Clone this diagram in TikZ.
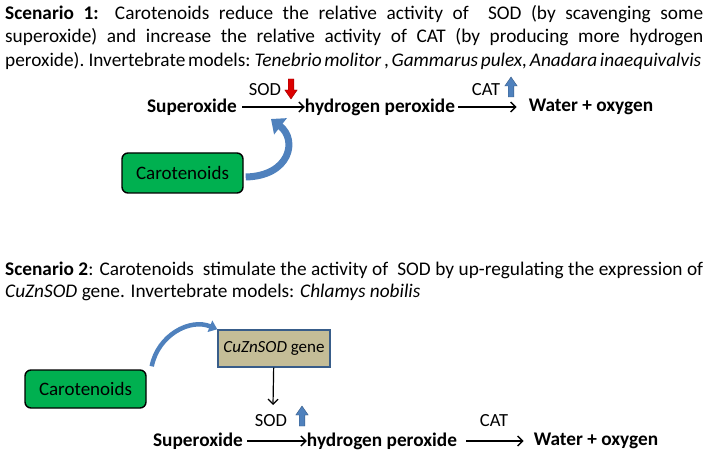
\documentclass[tikz,border=0pt]{standalone}
\usepackage{fontspec}
\setmainfont{Carlito}
\usetikzlibrary{arrows.meta}

\definecolor{carogreen}{RGB}{0,176,80}
\definecolor{genetan}{RGB}{196,189,151}
\definecolor{geneline}{RGB}{56,93,138}
\definecolor{bluearrow}{RGB}{79,129,189}
\definecolor{redarrow}{RGB}{220,0,0}

\tikzset{
  chem/.style={font=\bfseries\fontsize{19.3}{22}\selectfont, inner sep=0pt},
  enzyme/.style={font=\fontsize{18.5}{21}\selectfont, inner sep=0pt},
  react/.style={-{Straight Barb[length=5pt,width=10pt]}, line width=1.4pt},
  carobox/.style={draw, line width=1.4pt, rounded corners=6pt, fill=carogreen,
    minimum width=121pt, minimum height=40pt, font=\fontsize{19}{22}\selectfont},
  genebox/.style={draw=geneline, line width=1.4pt, fill=genetan,
    minimum width=112pt, minimum height=37pt, font=\fontsize{17}{20}\selectfont},
  bendarrow/.style={draw=bluearrow, line width=7pt,
    -{Triangle[length=12pt,width=20pt]}},
  blockarrow/.style={fill=#1, draw=#1!70!black, line width=0.4pt},
  scentext/.style={anchor=north west, inner sep=0pt, text width=698pt,
    align=justify}
}
% block arrow pointing down (+1) or up (-1)
\newcommand{\blockarr}[3]{% style, coordinate, direction
  \filldraw[blockarrow=#1] (#2) ++(-2.8,0) -- ++(0,#3*11) -- ++(-3.4,0)
    -- ++(6.2,#3*9) -- ++(6.2,-#3*9) -- ++(-3.4,0) -- ++(0,-#3*11) -- cycle;}

\begin{document}
\begin{tikzpicture}[x=1pt, y=-1pt]
    \useasboundingbox (0,0) rectangle (708,454);

    % Scenario 1 text
    \node[scentext, font=\fontsize{19.3}{23.5}\selectfont] (txt1) at (5,5)
        {\textbf{Scenario 1:} Carotenoids reduce the relative activity of \ SOD (by scavenging some\linebreak
         superoxide) and increase the relative activity of CAT (by producing more hydrogen\linebreak
         \mbox{\spaceskip=0.14em peroxide). Invertebrate models: \textit{Tenebrio molitor} , \textit{Gammarus pulex, Anadara inaequivalvis}}};

    % Scenario 1 reactions
    \node[chem] (sup1) at (192,107) {Superoxide};
    \node[chem] (hp1) at (380,107) {hydrogen peroxide};
    \node[chem] (wo1) at (591,107) {Water + oxygen};
    \node[enzyme] (sod1) at (265,90) {SOD};
    \node[enzyme] (cat1) at (486,90) {CAT};
    \coordinate (down1) at (291,79);
    \coordinate (up1) at (511,97);
    \blockarr{redarrow}{down1}{1}
    \blockarr{bluearrow}{up1}{-1}
    \draw[react, shorten <=5pt] (sup1) -- (hp1);
    \draw[react, shorten <=3pt, shorten >=12pt] (hp1) -- (wo1);

    \node[carobox] (caro1) at (182.5,173) {Carotenoids};
    \coordinate (tip1) at (271,119);
    \draw[bendarrow] (caro1.east) ++(2,4) .. controls (290,176) and (298,140) .. (tip1);

    % Scenario 2 text
    \node[scentext, font=\fontsize{19.3}{22}\selectfont] (txt2) at (5,262)
        {\textbf{Scenario 2}: Carotenoids \ stimulate the activity of \ SOD by up-regulating the expression of\linebreak
         \textit{CuZnSOD} gene. Invertebrate models: \textit{Chlamys nobilis}};

    % Scenario 2 gene and reactions
    \node[genebox] (gene) at (274,348.5) {\textit{CuZnSOD} gene};
    \node[carobox, minimum height=38pt] (caro2) at (85.5,389) {Carotenoids};
    \draw[bendarrow, line width=4.5pt, -{Triangle[length=8pt,width=12pt]}]
        (caro2.north east) ++(5,-3) .. controls (158,335) and (190,318) .. (gene.north west);
    \coordinate (sodtop) at (273,405);
    \draw[react, line width=1.2pt] (gene) -- (sodtop);

    \node[chem] (sup2) at (198,441) {Superoxide};
    \node[chem] (hp2) at (382,441) {hydrogen peroxide};
    \node[chem] (wo2) at (596,441) {Water + oxygen};
    \node[enzyme] (sod2) at (271,421) {SOD};
    \node[enzyme] (cat2) at (494,421) {CAT};
    \coordinate (up2) at (302,426);
    \blockarr{bluearrow}{up2}{-1}
    \draw[react, shorten <=4pt] (sup2) -- (hp2);
    \draw[react, shorten <=9pt, shorten >=10pt] (hp2) -- (wo2);
\end{tikzpicture}
\end{document}
